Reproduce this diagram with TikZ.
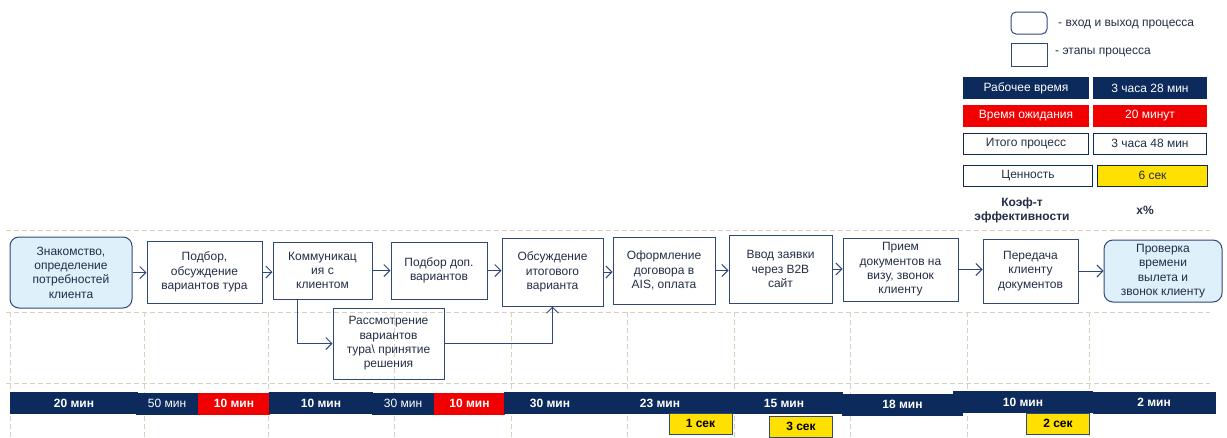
\documentclass[tikz,border=0pt]{standalone}
\usepackage{fontspec}
\setmainfont{Liberation Sans}
\usetikzlibrary{arrows.meta}
\definecolor{navy}{RGB}{12,42,92}
\definecolor{alarm}{RGB}{240,0,0}
\definecolor{gold}{RGB}{255,224,0}
\definecolor{boxline}{RGB}{47,72,120}
\definecolor{boxtext}{RGB}{35,45,70}
\definecolor{iofill}{RGB}{222,241,250}
\definecolor{guideline}{RGB}{216,209,190}
\tikzset{
    base/.style={font=\fontsize{12}{14.3}\selectfont},
    stage/.style={base, draw=boxline, line width=1pt, align=center, text=boxtext, inner sep=1pt},
    io/.style={stage, rounded corners=9pt, fill=iofill},
    flow/.style={draw=boxline, line width=1pt, -{Straight Barb[length=6pt,width=12pt]}},
    guide/.style={draw=guideline, line width=0.8pt, dash pattern=on 5pt off 3pt},
    seg/.style={base, fill=navy, text=white, font=\fontsize{12}{14}\selectfont\bfseries, inner sep=0pt, outer sep=0pt, minimum height=22pt},
    cell/.style={base, inner sep=0pt, minimum height=22pt, text=boxtext},
    tag/.style={base, fill=gold, draw=boxline, line width=0.8pt, font=\fontsize{12}{14}\selectfont\bfseries, inner sep=0pt, minimum width=63pt, minimum height=21pt}
}
\begin{document}
\begin{tikzpicture}[x=1pt, y=-1pt]
    \useasboundingbox (0,0) rectangle (1227,437);

    \foreach \gy in {230,312,383}
        \draw[guide] (6,\gy) -- (1210,\gy);
    \foreach \gx in {10,144,268,394,511,627,734,850,967,1089}
        \draw[guide] (\gx,312) -- (\gx,437);

    \node[io, minimum width=122pt, minimum height=71pt] (meet) at (71,272.5) {Знакомство,\\определение\\потребностей\\клиента};
    \node[stage, minimum width=115pt, minimum height=62pt] (select) at (204.5,272) {Подбор,\\обсуждение\\вариантов тура};
    \node[stage, minimum width=99pt, minimum height=57pt] (talk) at (322.5,270.5) {Коммуникац\\ия с\\клиентом};
    \node[stage, minimum width=96pt, minimum height=57pt] (extra) at (439,270.5) {Подбор доп.\\вариантов};
    \node[stage, minimum width=101pt, minimum height=68pt] (final) at (552.5,272) {Обсуждение\\итогового\\варианта};
    \node[stage, minimum width=102pt, minimum height=67pt] (contract) at (664,270.5) {Оформление\\договора в\\AIS, оплата};
    \node[stage, minimum width=103pt, minimum height=68pt] (order) at (780.5,269) {Ввод заявки\\через B2B\\сайт};
    \node[stage, minimum width=115pt, minimum height=63pt] (visa) at (900.5,269.5) {Прием\\документов на\\визу, звонок\\клиенту};
    \node[stage, minimum width=95pt, minimum height=64pt] (handover) at (1030.5,271) {Передача\\клиенту\\документов};
    \node[io, minimum width=118pt, minimum height=62pt] (check) at (1163,271) {Проверка\\времени\\вылета и\\звонок клиенту};
    \node[stage, minimum width=111pt, minimum height=71pt] (decide) at (388.5,343.5) {Рассмотрение\\вариантов\\тура\textbackslash{} принятие\\решения};

    \draw[flow] (meet.east) -- (meet.east -| select.west);
    \draw[flow] (select.east) -- (select.east -| talk.west);
    \draw[flow] (talk.east) -- (talk.east -| extra.west);
    \draw[flow] (extra.east) -- (extra.east -| final.west);
    \draw[flow] (final.east) -- (final.east -| contract.west);
    \draw[flow] (contract.east) -- (contract.east -| order.west);
    \draw[flow] (order.east) -- (order.east -| visa.west);
    \draw[flow] (visa.east) -- (visa.east -| handover.west);
    \draw[flow] (handover.east) -- (handover.east -| check.west);
    \draw[flow] ([xshift=-25pt]talk.south) |- (decide.west);
    \draw[flow] (decide.east) -| (final.south);

    \node[seg, minimum width=128pt] (t1) at (74,403) {20 мин};
    \node[seg, minimum width=63pt, font=\fontsize{12}{14}\selectfont] (t2) at (167,403.5) {50 мин};
    \node[seg, fill=alarm, minimum width=72pt] (w1) at (234,403.5) {10 мин};
    \node[seg, minimum width=104pt] (t3) at (321,403) {10 мин};
    \node[seg, minimum width=62pt, font=\fontsize{12}{14}\selectfont] (t4) at (403,403.5) {30 мин};
    \node[seg, fill=alarm, minimum width=71pt] (w2) at (469.5,403.5) {10 мин};
    \node[seg, minimum width=92pt] (t5) at (550,403) {30 мин};
    \node[seg, minimum width=132pt] (t6) at (660,403) {23 мин};
    \node[seg, minimum width=118pt] (t7) at (784,403) {15 мин};
    \node[seg, minimum width=121pt] (t8) at (902.5,404.5) {18 мин};
    \node[seg, minimum width=140pt] (t9) at (1023,402) {10 мин};
    \node[seg, minimum width=123pt] (t10) at (1154,402.5) {2 мин};

    \node[tag] (v1) at (700.5,423.5) {1 сек};
    \node[tag] (v2) at (801,426.5) {3 сек};
    \node[tag] (v3) at (1058,423.5) {2 сек};

    \node[stage, rounded corners=5pt, minimum width=36pt, minimum height=22pt] (keyio) at (1029,23) {};
    \node[base, anchor=west, text=boxtext, inner sep=0pt] (keyiotext) at (1058,25) {- вход и выход процесса};
    \node[stage, minimum width=36pt, minimum height=23pt] (keystage) at (1029,54.5) {};
    \node[base, anchor=west, text=boxtext, inner sep=0pt] (keystagetext) at (1055,53) {- этапы процесса};

    \node[cell, fill=navy, text=white, minimum width=126pt] (worklbl) at (1026,88) {Рабочее время};
    \node[cell, fill=navy, text=white, minimum width=114pt] (workval) at (1150,88) {3 часа 28 мин};
    \node[cell, fill=alarm, text=white, minimum width=126pt] (waitlbl) at (1026,115.5) {Время ожидания};
    \node[cell, fill=alarm, text=white, minimum width=114pt] (waitval) at (1150,115.5) {20 минут};
    \node[cell, draw=navy, line width=0.8pt, minimum width=125pt, minimum height=21pt] (totlbl) at (1026,143.5) {Итого процесс};
    \node[cell, draw=navy, line width=0.8pt, minimum width=113pt, minimum height=21pt] (totval) at (1150,143.5) {3 часа 48 мин};
    \node[cell, draw=navy, line width=0.8pt, minimum width=129pt, minimum height=21pt] (worthlbl) at (1028,175.5) {Ценность};
    \node[cell, draw=navy, fill=gold, line width=0.8pt, minimum width=110pt, minimum height=21pt] (worthval) at (1152.5,175.5) {6 сек};
    \node[base, font=\fontsize{12}{14}\selectfont\bfseries, align=center, text=boxtext] (ratio) at (1022,210) {Коэф-т\\эффективности};
    \node[base, font=\fontsize{12}{14}\selectfont\bfseries, text=boxtext] (ratioval) at (1145,210) {x\%};
\end{tikzpicture}
\end{document}
